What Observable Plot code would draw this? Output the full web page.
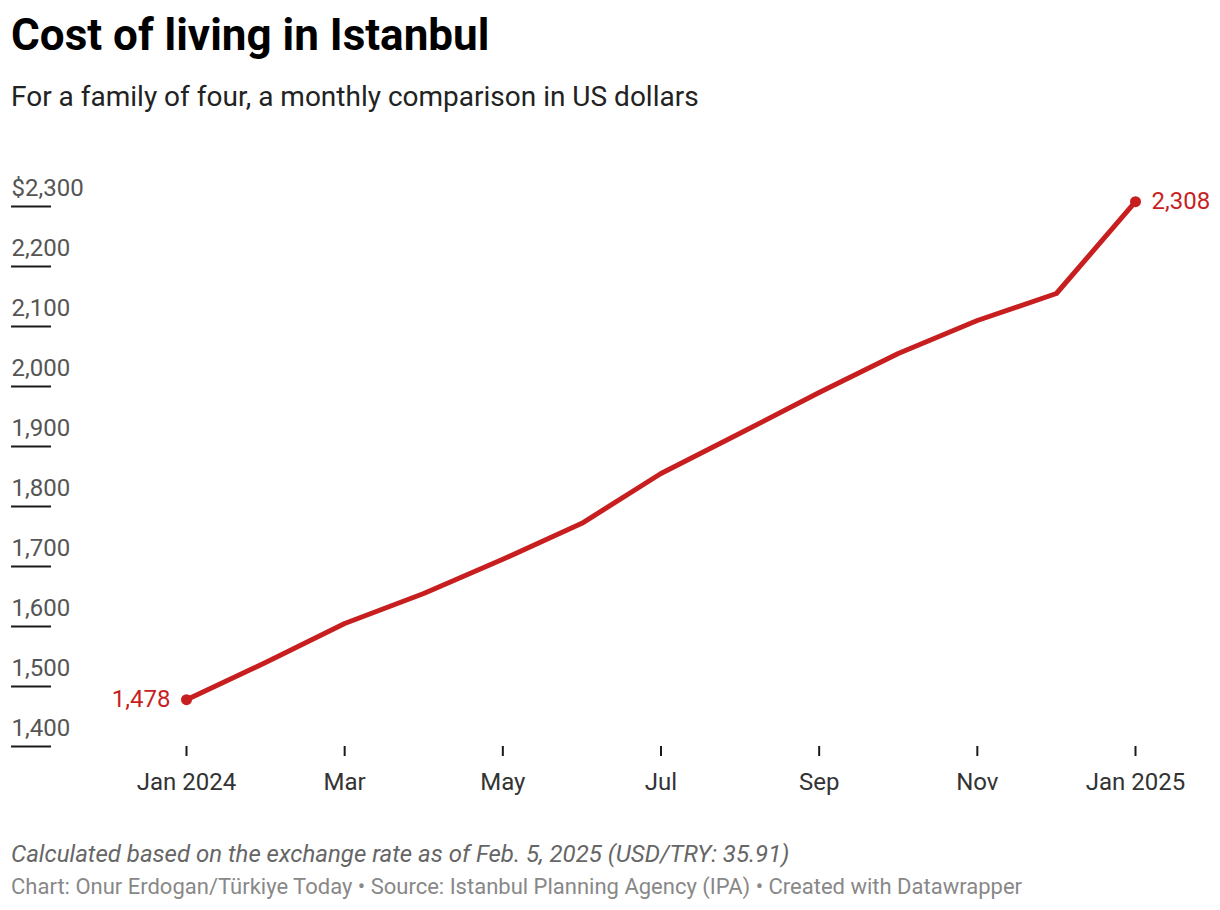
<!DOCTYPE html>
<html>
<head>
<meta charset="utf-8">
<script src="https://cdn.jsdelivr.net/npm/d3@7"></script>
<script src="https://cdn.jsdelivr.net/npm/@observablehq/plot@0.6"></script>
<style>
  html, body { margin: 0; padding: 0; background: #fff; }
  body { width: 1220px; height: 910px; position: relative; overflow: hidden; font-family: Roboto, "Noto Sans", sans-serif; }
  #title, #subtitle, #note, #credit { position: absolute; left: 11px; white-space: nowrap; line-height: 1.172; }
  #title { top: 10px; font-size: 44px; font-weight: 700; color: #000; }
  #subtitle { top: 81px; font-size: 28px; color: #222; }
  #chart { position: absolute; left: 0; top: 150px; }
  #note { top: 840px; font-size: 24px; font-style: italic; color: #666; }
  #credit { top: 874px; font-size: 22px; color: #888; }
</style>
</head>
<body>
<div id="title">Cost of living in Istanbul</div>
<div id="subtitle">For a family of four, a monthly comparison in US dollars</div>
<div id="chart"></div>
<div id="note">Calculated based on the exchange rate as of Feb. 5, 2025 (USD/TRY: 35.91)</div>
<div id="credit">Chart: Onur Erdogan/Türkiye Today • Source: Istanbul Planning Agency (IPA) • Created with Datawrapper</div>
<script>
// Months Jan 2024 .. Jan 2025
const months = ["Jan 2024","Feb","Mar","Apr","May","Jun","Jul","Aug","Sep","Oct","Nov","Dec","Jan 2025"];
const costUSD = [1478, 1540, 1605, 1655, 1712, 1772, 1855, 1922, 1990, 2055, 2110, 2155, 2308];
const xTickIndex = [0, 2, 4, 6, 8, 10, 12];
const xTickLabels = ["Jan 2024", "Mar", "May", "Jul", "Sep", "Nov", "Jan 2025"];
const yTicks = [1400, 1500, 1600, 1700, 1800, 1900, 2000, 2100, 2200, 2300];

const data = months.map((m, i) => ({i, month: m, value: costUSD[i]}));
const endpoints = [data[0], data[data.length - 1]];
const fmt = d3.format(",");
const red = "#c71f1f";

const chart = Plot.plot({
  width: 1220,
  height: 660,
  marginTop: 56,
  marginBottom: 64,
  marginLeft: 51,
  marginRight: 85,
  insetLeft: 135,
  style: { fontFamily: "Roboto, sans-serif", fontSize: "24px", background: "transparent" },
  x: { type: "linear", domain: [0, months.length - 1] },
  y: { domain: [1400, 2300] },
  marks: [
    Plot.axisY(yTicks, { anchor: "left", tickSize: 40, tickFormat: () => "", stroke: "#1a1a1a", strokeWidth: 2, label: null }),
    Plot.axisY(yTicks, {
      anchor: "left", tickSize: 0, tickPadding: 0, textAnchor: "start", dx: -40, dy: -10.5, lineAnchor: "bottom",
      fill: "#555", fontSize: 24, label: null,
      tickFormat: d => (d === yTicks[yTicks.length - 1] ? "$" : "") + fmt(d)
    }),
    Plot.axisX(xTickIndex, {
      anchor: "bottom", tickSize: 10, tickPadding: 16, stroke: "#1a1a1a", strokeWidth: 2,
      fill: "#333", fontSize: 24, label: null,
      tickFormat: d => xTickLabels[xTickIndex.indexOf(d)]
    }),
    Plot.line(data, { x: "i", y: "value", stroke: red, strokeWidth: 5, strokeLinejoin: "round" }),
    Plot.dot(endpoints, { x: "i", y: "value", r: 5.5, fill: red, stroke: "none" }),
    Plot.text([endpoints[0]], { x: "i", y: "value", text: d => fmt(d.value), textAnchor: "end", dx: -16, fill: red, fontSize: 24 }),
    Plot.text([endpoints[1]], { x: "i", y: "value", text: d => fmt(d.value), textAnchor: "start", dx: 16, fill: red, fontSize: 24 })
  ]
});
document.getElementById("chart").appendChild(chart);
</script>
</body>
</html>
